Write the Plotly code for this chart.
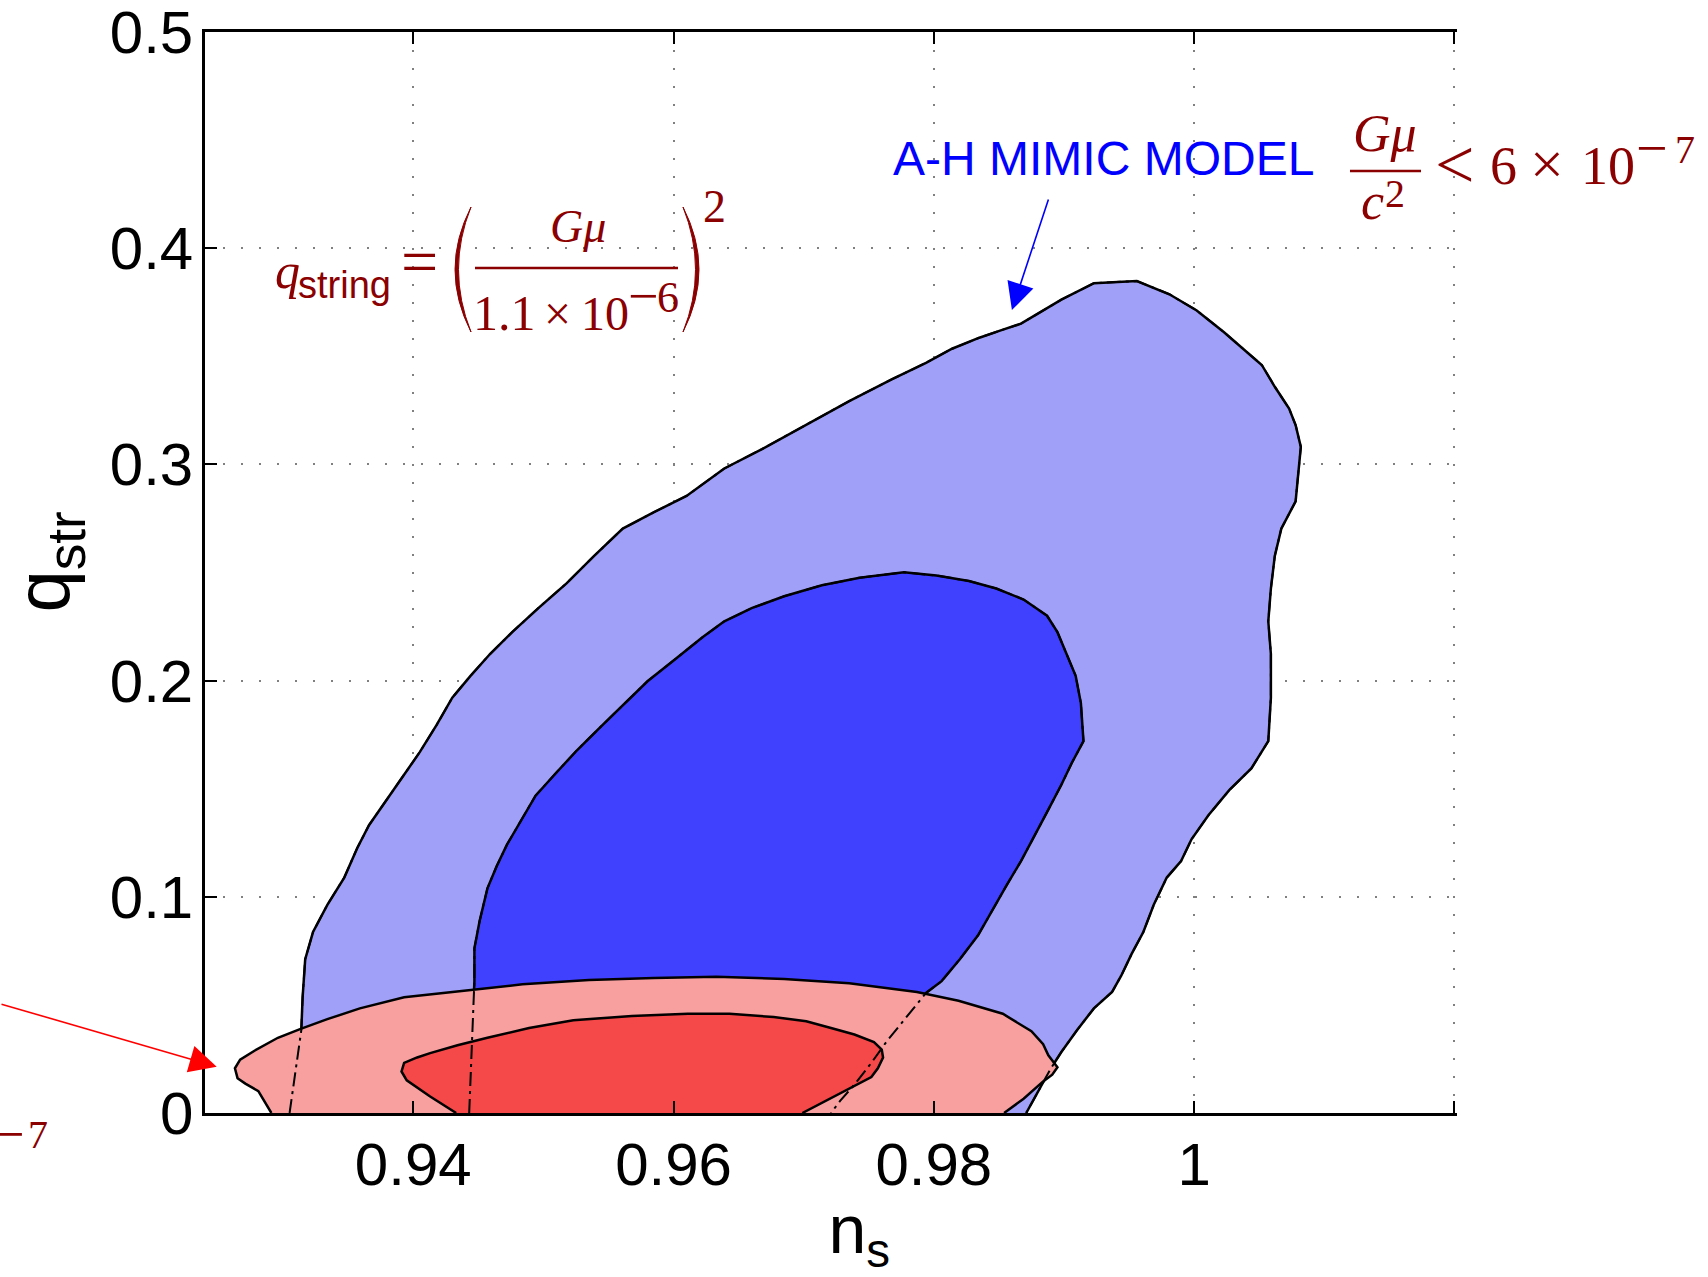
import plotly.graph_objects as go

# ---------------- data ----------------
# 95% region of the A-H mimic model (light blue), clockwise from bottom-left
outer_blue_ns = [0.9305, 0.9314, 0.9315, 0.9317, 0.9323, 0.9334, 0.9347, 0.9357, 0.9366, 0.9376,
                 0.9388, 0.9405, 0.9418, 0.9430, 0.9444, 0.9459, 0.9476, 0.9497, 0.9518, 0.9539,
                 0.9561, 0.9585, 0.9610, 0.9639, 0.9668, 0.9702, 0.9735, 0.9768, 0.9794, 0.9814,
                 0.9835, 0.9852, 0.9867, 0.9877, 0.9898, 0.9923, 0.9956, 0.9981, 1.0002, 1.0023,
                 1.0052, 1.0062, 1.0073, 1.0078, 1.0082, 1.0078, 1.0067, 1.0062, 1.0059, 1.0057,
                 1.0059, 1.0059, 1.0057, 1.0044, 1.0027, 1.0011, 0.9998, 0.9990, 0.9979, 0.9969,
                 0.9961, 0.9952, 0.9944, 0.9937, 0.9923, 0.9910, 0.9898, 0.9890, 0.9881, 0.9871]
outer_blue_q = [0.0000, 0.0383, 0.0535, 0.0711, 0.0837, 0.0963, 0.1089, 0.1226, 0.1331, 0.1417,
                0.1518, 0.1669, 0.1795, 0.1921, 0.2022, 0.2123, 0.2224, 0.2340, 0.2451, 0.2577,
                0.2703, 0.2779, 0.2854, 0.2981, 0.3071, 0.3182, 0.3293, 0.3394, 0.3470, 0.3535,
                0.3586, 0.3621, 0.3651, 0.3687, 0.3762, 0.3838, 0.3848, 0.3787, 0.3712, 0.3611,
                0.3460, 0.3359, 0.3258, 0.3182, 0.3081, 0.2829, 0.2703, 0.2577, 0.2426, 0.2274,
                0.2123, 0.1921, 0.1720, 0.1594, 0.1493, 0.1377, 0.1266, 0.1165, 0.1089, 0.0963,
                0.0837, 0.0736, 0.0635, 0.0560, 0.0484, 0.0383, 0.0282, 0.0207, 0.0106, 0.0000]

# 68% region of the A-H mimic model (dark blue)
inner_blue_ns = [0.9443, 0.9447, 0.9447, 0.9451, 0.9457, 0.9464, 0.9472, 0.9483, 0.9494, 0.9509,
                 0.9526, 0.9543, 0.9560, 0.9580, 0.9601, 0.9622, 0.9639, 0.9660, 0.9685, 0.9714,
                 0.9743, 0.9764, 0.9777, 0.9802, 0.9827, 0.9848, 0.9869, 0.9887, 0.9895, 0.9902,
                 0.9909, 0.9913, 0.9915, 0.9906, 0.9898, 0.9887, 0.9877, 0.9867, 0.9856, 0.9845,
                 0.9834, 0.9820, 0.9806, 0.9794, 0.9781, 0.9764, 0.9752, 0.9739, 0.9728, 0.9721]
inner_blue_q = [0.0000, 0.0610, 0.0762, 0.0888, 0.1039, 0.1140, 0.1241, 0.1357, 0.1468, 0.1568,
                0.1679, 0.1780, 0.1881, 0.1997, 0.2098, 0.2199, 0.2274, 0.2335, 0.2390, 0.2441,
                0.2476, 0.2491, 0.2501, 0.2486, 0.2461, 0.2426, 0.2375, 0.2300, 0.2224, 0.2123,
                0.2022, 0.1896, 0.1720, 0.1619, 0.1518, 0.1392, 0.1276, 0.1165, 0.1054, 0.0938,
                0.0822, 0.0711, 0.0610, 0.0555, 0.0459, 0.0333, 0.0232, 0.0131, 0.0056, 0.0000]

# 95% region of the string-only model (pink)
outer_red_ns = [0.9291, 0.9281, 0.9271, 0.9265, 0.9263, 0.9267, 0.9278, 0.9296, 0.9313, 0.9334,
                0.9359, 0.9393, 0.9439, 0.9484, 0.9535, 0.9585, 0.9633, 0.9685, 0.9735, 0.9787,
                0.9819, 0.9853, 0.9875, 0.9884, 0.9888, 0.9895, 0.9891, 0.9884, 0.9869, 0.9854]
outer_red_q = [0.0000, 0.0101, 0.0136, 0.0161, 0.0207, 0.0247, 0.0288, 0.0348, 0.0388, 0.0434,
               0.0484, 0.0535, 0.0565, 0.0595, 0.0615, 0.0625, 0.0630, 0.0620, 0.0600, 0.0560,
               0.0519, 0.0459, 0.0378, 0.0318, 0.0267, 0.0212, 0.0177, 0.0146, 0.0066, 0.0000]

# 68% region of the string-only model (red)
inner_red_ns = [0.9433, 0.9413, 0.9395, 0.9391, 0.9393, 0.9403, 0.9413, 0.9434, 0.9457, 0.9489,
                0.9523, 0.9568, 0.9611, 0.9643, 0.9677, 0.9702, 0.9721, 0.9739, 0.9754, 0.9760,
                0.9761, 0.9757, 0.9752, 0.9739, 0.9721, 0.9708, 0.9699]
inner_red_q = [0.0000, 0.0076, 0.0151, 0.0192, 0.0232, 0.0257, 0.0277, 0.0313, 0.0348, 0.0393,
               0.0429, 0.0449, 0.0459, 0.0459, 0.0444, 0.0424, 0.0393, 0.0363, 0.0328, 0.0293,
               0.0257, 0.0207, 0.0166, 0.0126, 0.0071, 0.0030, 0.0000]

x_tick_vals = [0.94, 0.96, 0.98, 1.00, 1.02]
x_tick_text = ["0.94", "0.96", "0.98", "1", ""]
y_tick_vals = [0.0, 0.1, 0.2, 0.3, 0.4, 0.5]
y_tick_text = ["0", "0.1", "0.2", "0.3", "0.4", "0.5"]

# arrow targets (data coordinates)
blue_arrow_tip = (0.9860, 0.3714)
red_arrow_tip = (0.9249, 0.0214)

# ---------------- layout helpers ----------------
W, H = 1708, 1277
L, R, T, B = 205, 251, 32, 164
PW, PH = W - L - R, H - T - B
MAROON = "#8b0000"
SERIF = "Liberation Serif"
SANS = "Liberation Sans"


def px(X):
    return (X - L) / PW


def py(Y):
    return (H - B - Y) / PH


def txt(s, X, base, size, family=SERIF, color=MAROON):
    return dict(text=s, x=px(X), y=py(base - 0.34 * size), xref="paper", yref="paper",
                xanchor="center", yanchor="middle", showarrow=False,
                font=dict(family=family, size=size, color=color))


fig = go.Figure()

fills = [
    (outer_blue_ns, outer_blue_q, "#a0a0f8"),
    (inner_blue_ns, inner_blue_q, "#4040ff"),
    (outer_red_ns, outer_red_q, "#f8a0a0"),
    (inner_red_ns, inner_red_q, "#f54848"),
]
for xs, ys, col in fills:
    fig.add_trace(go.Scatter(x=xs, y=ys, mode="lines", fill="toself", fillcolor=col,
                             line=dict(color="black", width=2.5), hoverinfo="skip",
                             showlegend=False))

# blue contour outlines seen through the red regions (dash-dot)
for xs, ys in [(outer_blue_ns, outer_blue_q), (inner_blue_ns, inner_blue_q)]:
    fig.add_trace(go.Scatter(x=xs, y=ys, mode="lines",
                             line=dict(color="black", width=2, dash="14px,5px,3px,5px"),
                             hoverinfo="skip", showlegend=False))

shapes = [
    # white backing boxes of the pasted formulas (hide the grid)
    dict(type="rect", xref="paper", yref="paper", x0=px(250), x1=px(745), y0=py(385), y1=py(145),
         fillcolor="white", line=dict(width=0), layer="between"),
    dict(type="rect", xref="paper", yref="paper", x0=px(1315), x1=px(1708), y0=py(253), y1=py(83),
         fillcolor="white", line=dict(width=0), layer="between"),
    # fraction bars
    dict(type="line", xref="paper", yref="paper", x0=px(475), x1=px(678), y0=py(268), y1=py(268),
         line=dict(color=MAROON, width=2.5)),
    dict(type="line", xref="paper", yref="paper", x0=px(1350), x1=px(1421), y0=py(171), y1=py(171),
         line=dict(color=MAROON, width=2.5)),
]


def paren(xt, xo, xi, y0, y1):
    ym = (y0 + y1) / 2
    return dict(type="path", xref="paper", yref="paper",
                path=(f"M {px(xt)},{py(y0)} Q {px(xo)},{py(ym)} {px(xt)},{py(y1)} "
                      f"Q {px(xi)},{py(ym)} {px(xt)},{py(y0)} Z"),
                fillcolor=MAROON, line=dict(color=MAROON, width=1))


shapes.append(paren(471, 439, 446, 207, 332))
shapes.append(paren(683, 715, 708, 207, 332))

annotations = [
    # q_string = ( G mu / 1.1 x 10^-6 )^2
    txt("<i>q</i>", 287, 288, 50),
    txt("string", 344, 298, 38, family=SANS),
    txt("=", 419, 284, 66),
    txt("<i>G</i><i>μ</i>", 578, 242, 46),
    txt("1.1", 504, 330, 50),
    txt("×", 557, 330, 48),
    txt("10", 605, 330, 48),
    txt("−", 643, 314, 54),
    txt("6", 668, 312, 44),
    txt("2", 714, 222, 46),
    # G mu / c^2 < 6 x 10^-7
    txt("<i>G</i><i>μ</i>", 1385, 151, 52),
    txt("<i>c</i>", 1372, 219, 52),
    txt("2", 1395, 207, 40),
    txt("<", 1454, 188, 70),
    txt("6", 1503, 184, 54),
    txt("×", 1547, 184, 60),
    txt("10", 1608, 184, 54),
    txt("−", 1652, 167, 56),
    txt("7", 1685, 163, 40),
    # clipped formula at the left edge
    txt("−", 9, 1153, 56),
    txt("7", 38, 1148, 40),
    # model label
    txt("A-H MIMIC MODEL", 1103, 175, 48, family=SANS, color="#0000ff"),
    # arrows
    dict(x=blue_arrow_tip[0], y=blue_arrow_tip[1], xref="x", yref="y", text="",
         showarrow=True, ax=37, ay=-112, axref="pixel", ayref="pixel",
         arrowhead=2, arrowsize=3.4, arrowwidth=1.6, arrowcolor="#0000ff"),
    dict(x=red_arrow_tip[0], y=red_arrow_tip[1], xref="x", yref="y", text="",
         showarrow=True, ax=-250, ay=-63, axref="pixel", ayref="pixel",
         arrowhead=2, arrowsize=3.4, arrowwidth=1.6, arrowcolor="#ff0000"),
]

grid = dict(showgrid=True, gridcolor="#808080", gridwidth=1.5, griddash="2px,16px")

fig.update_layout(
    width=W, height=H,
    margin=dict(l=L, r=R, t=T, b=B, autoexpand=False),
    paper_bgcolor="white", plot_bgcolor="white",
    shapes=shapes, annotations=annotations,
    xaxis=dict(range=[0.924, 1.0202], tickmode="array", tickvals=x_tick_vals, ticktext=x_tick_text,
               ticks="inside", ticklen=12, tickwidth=2, tickcolor="black",
               showline=True, linecolor="black", linewidth=2.5, mirror="ticks",
               zeroline=False, automargin=False, ticklabelstandoff=-3,
               ticklabeloverflow="allow",
               tickfont=dict(family=SANS, size=60, color="black"),
               title=dict(text="\u200b\u00a0\u00a0\u00a0n<sub>s</sub>",
                          font=dict(family=SANS, size=68, color="black"), standoff=13),
               **grid),
    yaxis=dict(range=[0, 0.5], tickmode="array", tickvals=y_tick_vals, ticktext=y_tick_text,
               ticks="inside", ticklen=12, tickwidth=2, tickcolor="black",
               showline=True, linecolor="black", linewidth=2.5, mirror=False,
               zeroline=False, automargin=False, ticklabelstandoff=-3,
               ticklabeloverflow="allow",
               tickfont=dict(family=SANS, size=60, color="black"),
               title=dict(text="\u200b\u00a0q<sub>str</sub>",
                          font=dict(family=SANS, size=76, color="black"), standoff=56),
               **grid),
)

fig.write_html("out.html", config={"displayModeBar": False},
               post_script="document.body.style.margin='0px';")
